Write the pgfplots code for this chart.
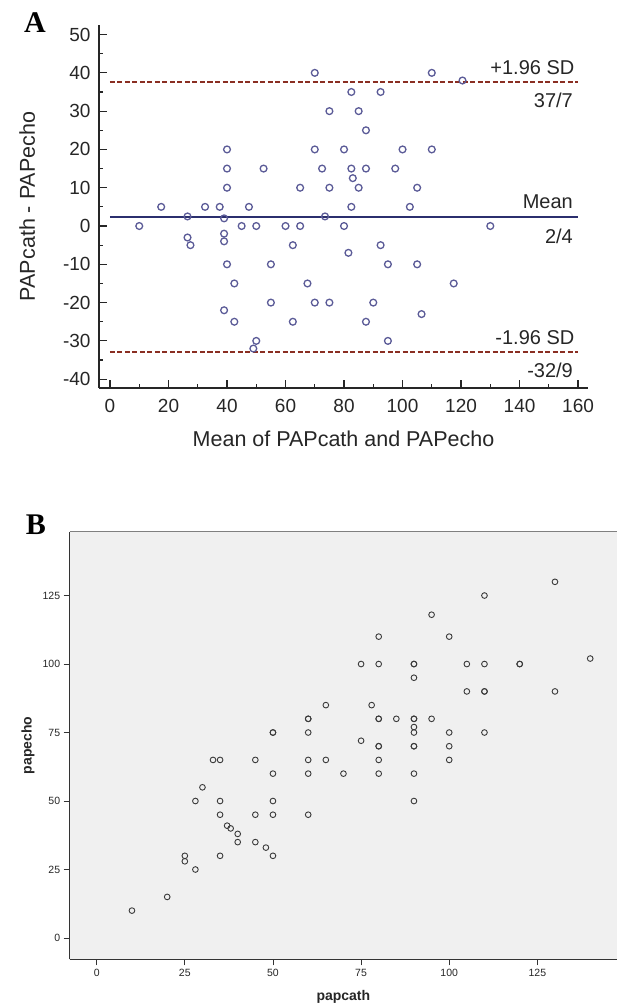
\documentclass[border=0pt]{standalone}
\usepackage{fontspec}
\setmainfont{Liberation Sans}
\newfontfamily\panelfont{Liberation Serif}
\usepackage{pgfplots}
\pgfplotsset{compat=1.18}

\definecolor{txt}{HTML}{262626}
\definecolor{ptA}{HTML}{5B5B97}
\definecolor{meanc}{HTML}{2B2F6E}
\definecolor{sdc}{HTML}{8A2E22}
\definecolor{bgB}{HTML}{F0F0F0}
\definecolor{ptB}{HTML}{3A3A3A}
\definecolor{axB}{HTML}{333333}

\begin{document}
\begin{tikzpicture}[x=1pt,y=1pt]
\path[use as bounding box] (0,0) rectangle (617,1007);

% panel A: Bland-Altman
\begin{axis}[
  at={(99pt,619pt)}, anchor=south west,
  scale only axis, width=489pt, height=363pt,
  xmin=-3.76, xmax=163.4, ymin=-42.3, ymax=52.5,
  axis x line*=bottom, axis y line*=left,
  axis line style={-, draw=txt, line width=1.4pt},
  tick align=inside,
  major tick length=8pt, minor tick length=4pt,
  tick style={draw=txt, line width=1.2pt},
  xtick={0,20,...,160}, ytick={-40,-30,...,50},
  minor x tick num=1, minor y tick num=1,
  /pgf/number format/assume math mode=true,
  tick label style={font=\fontsize{19}{21}\selectfont, text=txt},
  xticklabel style={yshift=-8pt},
  yticklabel style={xshift=-5pt},
  xlabel={Mean of PAPcath and PAPecho},
  ylabel={PAPcath - PAPecho},
  every axis x label/.style={at={(axis description cs:0.5,-0.1405)}, anchor=center,
    font=\fontsize{21.5}{24}\selectfont, text=txt},
  every axis y label/.style={at={(axis description cs:-0.147,0.5)}, rotate=90, anchor=center,
    font=\fontsize{21.5}{24}\selectfont, text=txt},
  clip=false,
]
\addplot[sdc, line width=1.8pt, dash pattern=on 5pt off 2.5pt] coordinates {(0,37.7) (160,37.7)};
\addplot[meanc, line width=1.8pt] coordinates {(0,2.4) (160,2.4)};
\addplot[sdc, line width=1.8pt, dash pattern=on 5pt off 2.5pt] coordinates {(0,-32.9) (160,-32.9)};
\addplot[only marks, mark=o, mark size=3.4pt, mark options={draw=ptA, line width=1.3pt}] coordinates {
(10,0) (17.5,5) (26.5,2.5) (26.5,-3) (27.5,-5) (32.5,5) (37.5,5) (39,2) (39,-2) (39,-4)
(39,-22) (40,20) (40,15) (40,10) (40,-10) (42.5,-15) (42.5,-25) (45,0) (47.5,5) (49,-32)
(50,0) (50,-30) (52.5,15) (55,-10) (55,-20) (60,0) (62.5,-5) (62.5,-25) (65,10) (65,0)
(67.5,-15) (70,40) (70,20) (70,-20) (72.5,15) (73.5,2.5) (75,30) (75,10) (75,-20) (80,20)
(80,0) (81.5,-7) (82.5,35) (82.5,15) (82.5,5) (83,12.5) (85,30) (85,10) (87.5,25) (87.5,15)
(87.5,-25) (90,-20) (92.5,35) (92.5,-5) (95,-10) (95,-30) (97.5,15) (100,20) (102.5,5) (105,10)
(105,-10) (106.5,-23) (110,40) (110,20) (117.5,-15) (120.5,38) (130,0)
};
\begin{scope}[every node/.style={inner sep=0pt, text=txt, font=\fontsize{20}{22}\selectfont}]
\node[anchor=base east] at ([xshift=-3.5pt,yshift=7.5pt]axis cs:160,37.7) {+1.96 SD};
\node[anchor=north east] at ([xshift=-5pt,yshift=-11.5pt]axis cs:160,37.7) {37/7};
\node[anchor=base east] at ([xshift=-5pt,yshift=8pt]axis cs:160,2.4) {Mean};
\node[anchor=north east] at ([xshift=-5pt,yshift=-12pt]axis cs:160,2.4) {2/4};
\node[anchor=base east] at ([xshift=-3.5pt,yshift=7.5pt]axis cs:160,-32.9) {-1.96 SD};
\node[anchor=north east] at ([xshift=-5pt,yshift=-10.5pt]axis cs:160,-32.9) {-32/9};
\end{scope}
\end{axis}
\node[font=\panelfont\bfseries\fontsize{30}{32}\selectfont] at (35,984) {A};

% panel B: scatter
\begin{axis}[
  at={(69.7pt,47.7pt)}, anchor=south west,
  scale only axis, width=547.3pt, height=427.6pt,
  xmin=-7.66, xmax=147.6, ymin=-7.77, ymax=148.3,
  axis x line*=bottom, axis y line*=left,
  axis line style={-, draw=axB, line width=1pt},
  axis background/.style={fill=bgB},
  tick align=outside, major tick length=6pt,
  tick style={draw=axB, line width=0.9pt},
  xtick={0,25,...,125}, ytick={0,25,...,125},
  /pgf/number format/assume math mode=true,
  tick label style={font=\fontsize{10.5}{12}\selectfont, text=txt},
  xlabel={papcath}, ylabel={papecho},
  every axis x label/.style={at={(axis description cs:0.5,-0.087)}, anchor=center,
    font=\bfseries\fontsize{14}{16}\selectfont, text=txt},
  every axis y label/.style={at={(axis description cs:-0.0762,0.5)}, rotate=90, anchor=center,
    font=\bfseries\fontsize{14}{16}\selectfont, text=txt},
  clip=false,
]
\draw[gray, line width=1.2pt] (rel axis cs:0,1) -- (rel axis cs:1,1);
\addplot[only marks, mark=o, mark size=2.85pt, mark options={draw=ptB, line width=0.9pt}] coordinates {
(10,10) (20,15) (25,30) (25,28) (28,25) (28,50) (30,55) (33,65) (35,65) (35,50)
(35,45) (35,30) (37,41) (38,40) (40,38) (40,35) (45,65) (45,45) (45,35) (48,33)
(50,75) (50,75) (50,60) (50,50) (50,45) (50,30) (60,80) (60,80) (60,75) (60,65)
(60,60) (60,45) (65,65) (65,85) (70,60) (75,72) (75,100) (78,85) (80,110) (80,100)
(80,80) (80,80) (80,70) (80,70) (80,65) (80,60) (85,80) (90,100) (90,100) (90,95)
(90,80) (90,80) (90,77) (90,75) (90,70) (90,70) (90,60) (90,50) (95,118) (95,80)
(100,110) (100,75) (100,70) (100,65) (105,100) (105,90) (110,125) (110,100) (110,90) (110,90)
(110,75) (120,100) (120,100) (130,130) (130,90) (140,102)
};
\end{axis}
\node[font=\panelfont\bfseries\fontsize{30}{32}\selectfont] at (36,482) {B};
\end{tikzpicture}
\end{document}
